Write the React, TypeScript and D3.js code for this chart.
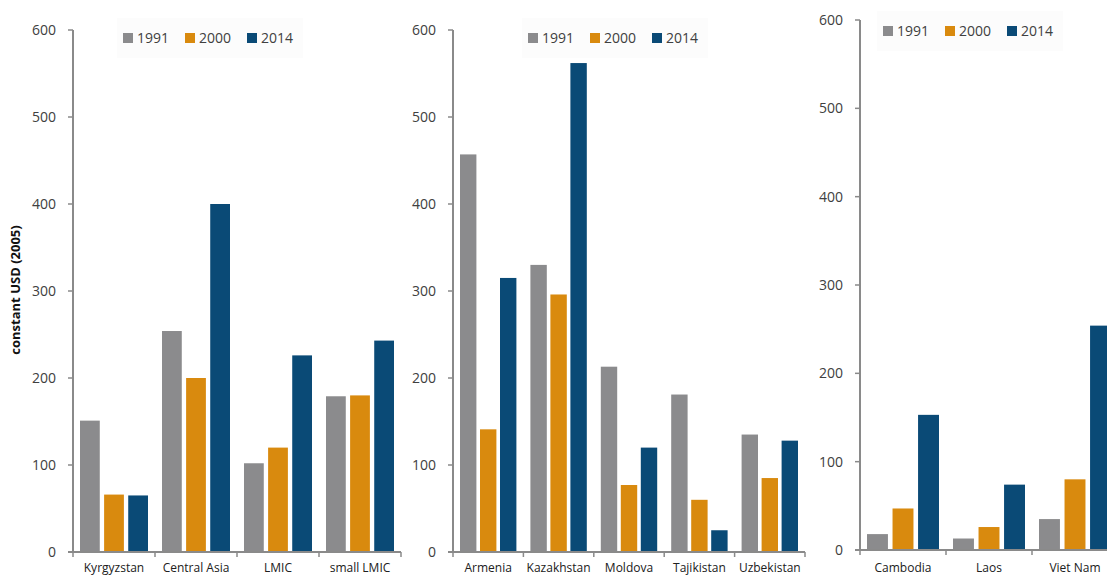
import { useEffect, useRef } from 'react';
import * as d3 from 'd3';

const years = ['1991', '2000', '2014'];
const colors = ['#8b8b8d', '#d98a0e', '#0a4a76'];
const yTicks = [0, 100, 200, 300, 400, 500, 600];

// panel 1
const catsA = ['Kyrgyzstan', 'Central Asia', 'LMIC', 'small LMIC'];
const valsA = [
  [151, 66, 65],
  [254, 200, 400],
  [102, 120, 226],
  [179, 180, 243],
];

// panel 2
const catsB = ['Armenia', 'Kazakhstan', 'Moldova', 'Tajikistan', 'Uzbekistan'];
const valsB = [
  [457, 141, 315],
  [330, 296, 562],
  [213, 77, 120],
  [181, 60, 25],
  [135, 85, 128],
];

// panel 3
const catsC = ['Cambodia', 'Laos', 'Viet Nam'];
const valsC = [
  [18, 47, 153],
  [13, 26, 74],
  [35, 80, 254],
];

interface Panel {
  cats: string[];
  vals: number[][];
  x0: number;
  x1: number;
  yTop: number;
  yBot: number;
  legendX: number;
  legendY: number;
  pad: number;
}

const panels: Panel[] = [
  { cats: catsA, vals: valsA, x0: 73, x1: 401, yTop: 30, yBot: 552, legendX: 123, legendY: 38, pad: 7 },
  { cats: catsB, vals: valsB, x0: 453, x1: 805, yTop: 30, yBot: 552, legendX: 528, legendY: 38, pad: 7 },
  { cats: catsC, vals: valsC, x0: 860, x1: 1118, yTop: 20, yBot: 550, legendX: 883, legendY: 31, pad: 7 },
];

const FONT = '"Open Sans", "DejaVu Sans", sans-serif';
const TEXT = '#404040';
const AXIS = '#8a8a8a';

export default function App() {
  const svgRef = useRef<SVGSVGElement>(null);
  const width = 1107;
  const height = 577;

  useEffect(() => {
    if (!svgRef.current) return;
    const svg = d3.select(svgRef.current);
    svg.selectAll('*').remove();

    svg.append('rect').attr('width', width).attr('height', height).attr('fill', '#fff');

    panels.forEach((p) => {
      const g = svg.append('g');
      const y = d3.scaleLinear().domain([0, 600]).range([p.yBot, p.yTop]);
      const x = d3.scaleBand().domain(p.cats).range([p.x0, p.x1]).padding(0);
      const xs = d3
        .scaleBand()
        .domain(years)
        .range([p.pad, x.bandwidth() - p.pad])
        .paddingInner(0.18);

      // legend box (faint)
      const lg = g.append('g').attr('transform', `translate(${p.legendX},${p.legendY})`);
      lg.append('rect')
        .attr('x', -6).attr('y', -20).attr('width', 186).attr('height', 40)
        .attr('fill', '#fcfcfc');

      // bars
      p.cats.forEach((c, i) => {
        p.vals[i].forEach((v, j) => {
          g.append('rect')
            .attr('x', (x(c) ?? 0) + (xs(years[j]) ?? 0))
            .attr('y', y(v))
            .attr('width', xs.bandwidth())
            .attr('height', y(0) - y(v))
            .attr('fill', colors[j]);
        });
      });

      // y axis
      g.append('line')
        .attr('x1', p.x0).attr('x2', p.x0)
        .attr('y1', y(600)).attr('y2', y(0))
        .attr('stroke', AXIS).attr('stroke-width', 2);
      yTicks.forEach((t) => {
        g.append('line')
          .attr('x1', p.x0 - 5).attr('x2', p.x0)
          .attr('y1', y(t)).attr('y2', y(t))
          .attr('stroke', AXIS).attr('stroke-width', 1.5);
        g.append('text')
          .attr('x', p.x0 - 17)
          .attr('y', y(t))
          .attr('dy', '0.35em')
          .attr('text-anchor', 'end')
          .attr('font-family', FONT)
          .attr('font-size', 14)
          .attr('fill', TEXT)
          .text(t);
      });

      // x axis
      g.append('line')
        .attr('x1', p.x0 - 5).attr('x2', p.x1)
        .attr('y1', y(0)).attr('y2', y(0))
        .attr('stroke', AXIS).attr('stroke-width', 2);
      [...p.cats.map((c) => x(c) ?? 0), p.x1].forEach((bx) => {
        g.append('line')
          .attr('x1', bx).attr('x2', bx)
          .attr('y1', y(0)).attr('y2', y(0) + 5)
          .attr('stroke', AXIS).attr('stroke-width', 1.5);
      });
      p.cats.forEach((c) => {
        g.append('text')
          .attr('x', (x(c) ?? 0) + x.bandwidth() / 2)
          .attr('y', 572)
          .attr('text-anchor', 'middle')
          .attr('font-family', FONT)
          .attr('font-size', 12)
          .attr('fill', '#202020')
          .text(c);
      });

      // legend entries
      const offs = [0, 62, 124];
      years.forEach((yr, j) => {
        lg.append('rect')
          .attr('x', offs[j]).attr('y', -5)
          .attr('width', 10).attr('height', 10)
          .attr('fill', colors[j]);
        lg.append('text')
          .attr('x', offs[j] + 14)
          .attr('y', 0)
          .attr('dy', '0.35em')
          .attr('font-family', FONT)
          .attr('font-size', 14)
          .attr('fill', TEXT)
          .text(yr);
      });
    });

    // y title
    svg.append('text')
      .attr('transform', 'translate(20,290) rotate(-90)')
      .attr('text-anchor', 'middle')
      .attr('font-family', FONT)
      .attr('font-size', 13)
      .attr('font-weight', 'bold')
      .attr('fill', '#111')
      .text('constant USD (2005)');
  }, []);

  return (
    <svg
      ref={svgRef}
      width={width}
      height={height}
      style={{ position: 'absolute', left: 0, top: 0, display: 'block' }}
    />
  );
}
